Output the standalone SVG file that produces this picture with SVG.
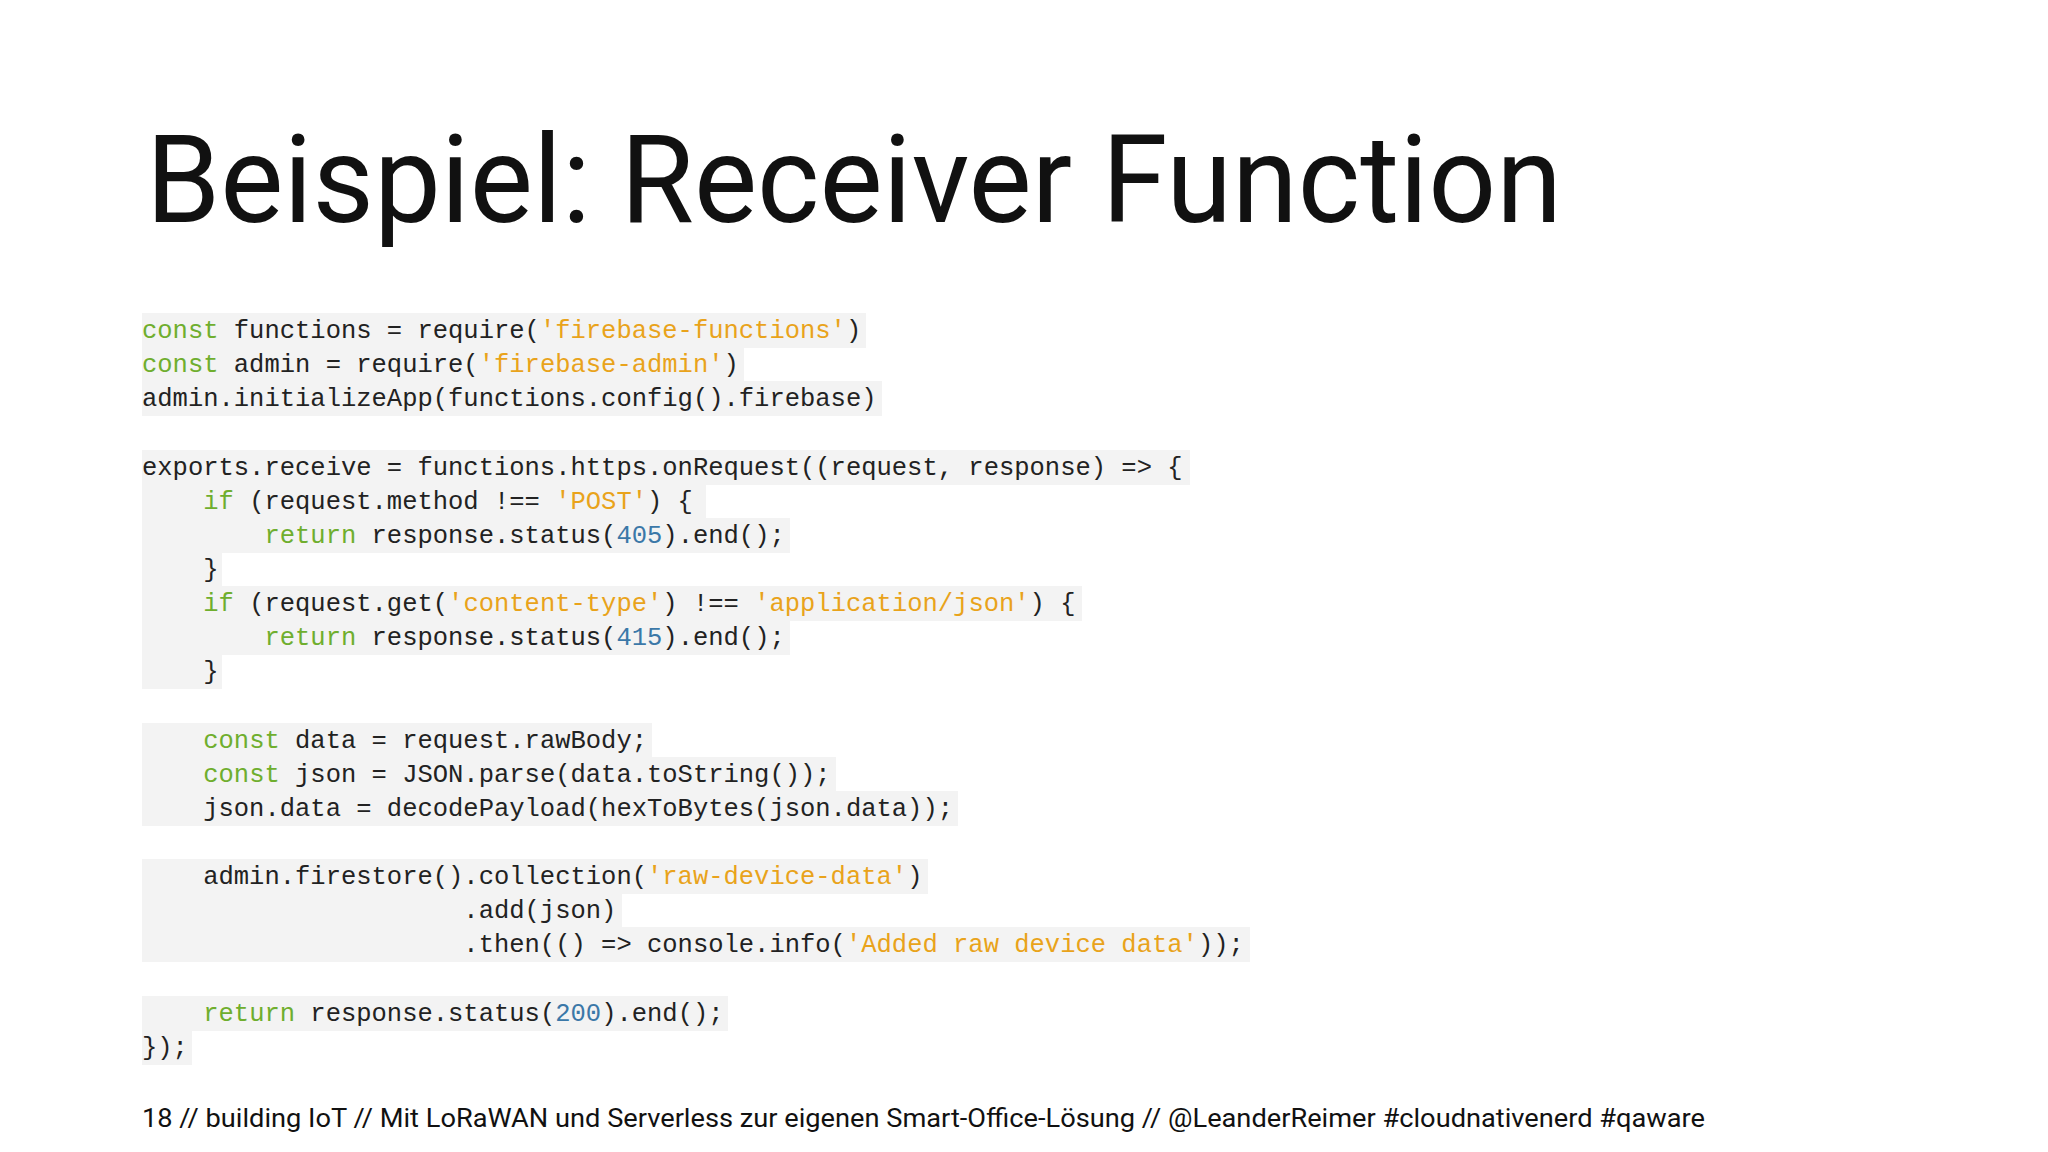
<svg xmlns="http://www.w3.org/2000/svg" width="2048" height="1152" viewBox="0 0 2048 1152">
<style>
.t{font-family:Roboto,"Liberation Sans",sans-serif;fill:#111}
.c{font-family:"Liberation Mono","DejaVu Sans Mono",monospace;font-size:25.5px;fill:#222;white-space:pre}
.k{fill:#6fae2e}.s{fill:#e9a31b}.n{fill:#3b78a8}
.bg{fill:#f3f3f3}
</style>
<rect width="2048" height="1152" fill="#fff"/>
<text class="t" x="146" y="222" font-size="123" textLength="1416" lengthAdjust="spacingAndGlyphs">Beispiel: Receiver Function</text>
<g id="code-bg">
<rect class="bg" x="142" y="313" width="724" height="35"/>
<rect class="bg" x="142" y="347" width="602" height="35"/>
<rect class="bg" x="142" y="381" width="740" height="35"/>
<rect class="bg" x="142" y="450" width="1048" height="35"/>
<rect class="bg" x="142" y="484" width="564" height="35"/>
<rect class="bg" x="142" y="518" width="648" height="35"/>
<rect class="bg" x="142" y="552" width="80" height="35"/>
<rect class="bg" x="142" y="586" width="940" height="35"/>
<rect class="bg" x="142" y="620" width="648" height="35"/>
<rect class="bg" x="142" y="654" width="80" height="35"/>
<rect class="bg" x="142" y="723" width="510" height="35"/>
<rect class="bg" x="142" y="757" width="694" height="35"/>
<rect class="bg" x="142" y="791" width="816" height="35"/>
<rect class="bg" x="142" y="859" width="786" height="35"/>
<rect class="bg" x="142" y="893" width="480" height="35"/>
<rect class="bg" x="142" y="927" width="1108" height="35"/>
<rect class="bg" x="142" y="996" width="586" height="35"/>
<rect class="bg" x="142" y="1030" width="50" height="35"/>
</g>
<g id="code">
<text class="c" x="142" y="338"><tspan class="k">const</tspan> functions = require(<tspan class="s">'firebase-functions'</tspan>)</text>
<text class="c" x="142" y="372"><tspan class="k">const</tspan> admin = require(<tspan class="s">'firebase-admin'</tspan>)</text>
<text class="c" x="142" y="406">admin.initializeApp(functions.config().firebase)</text>
<text class="c" x="142" y="475">exports.receive = functions.https.onRequest((request, response) =&gt; {</text>
<text class="c" x="142" y="509">    <tspan class="k">if</tspan> (request.method !== <tspan class="s">'POST'</tspan>) {</text>
<text class="c" x="142" y="543">        <tspan class="k">return</tspan> response.status(<tspan class="n">405</tspan>).end();</text>
<text class="c" x="142" y="577">    }</text>
<text class="c" x="142" y="611">    <tspan class="k">if</tspan> (request.get(<tspan class="s">'content-type'</tspan>) !== <tspan class="s">'application/json'</tspan>) {</text>
<text class="c" x="142" y="645">        <tspan class="k">return</tspan> response.status(<tspan class="n">415</tspan>).end();</text>
<text class="c" x="142" y="679">    }</text>
<text class="c" x="142" y="748">    <tspan class="k">const</tspan> data = request.rawBody;</text>
<text class="c" x="142" y="782">    <tspan class="k">const</tspan> json = JSON.parse(data.toString());</text>
<text class="c" x="142" y="816">    json.data = decodePayload(hexToBytes(json.data));</text>
<text class="c" x="142" y="884">    admin.firestore().collection(<tspan class="s">'raw-device-data'</tspan>)</text>
<text class="c" x="142" y="918">                     .add(json)</text>
<text class="c" x="142" y="952">                     .then(() =&gt; console.info(<tspan class="s">'Added raw device data'</tspan>));</text>
<text class="c" x="142" y="1021">    <tspan class="k">return</tspan> response.status(<tspan class="n">200</tspan>).end();</text>
<text class="c" x="142" y="1055">});</text>
</g>
<text class="t" x="142" y="1127" font-size="26" fill="#222" textLength="1563" lengthAdjust="spacingAndGlyphs">18 // building IoT // Mit LoRaWAN und Serverless zur eigenen Smart-Office-Lösung // @LeanderReimer #cloudnativenerd #qaware</text>
</svg>
